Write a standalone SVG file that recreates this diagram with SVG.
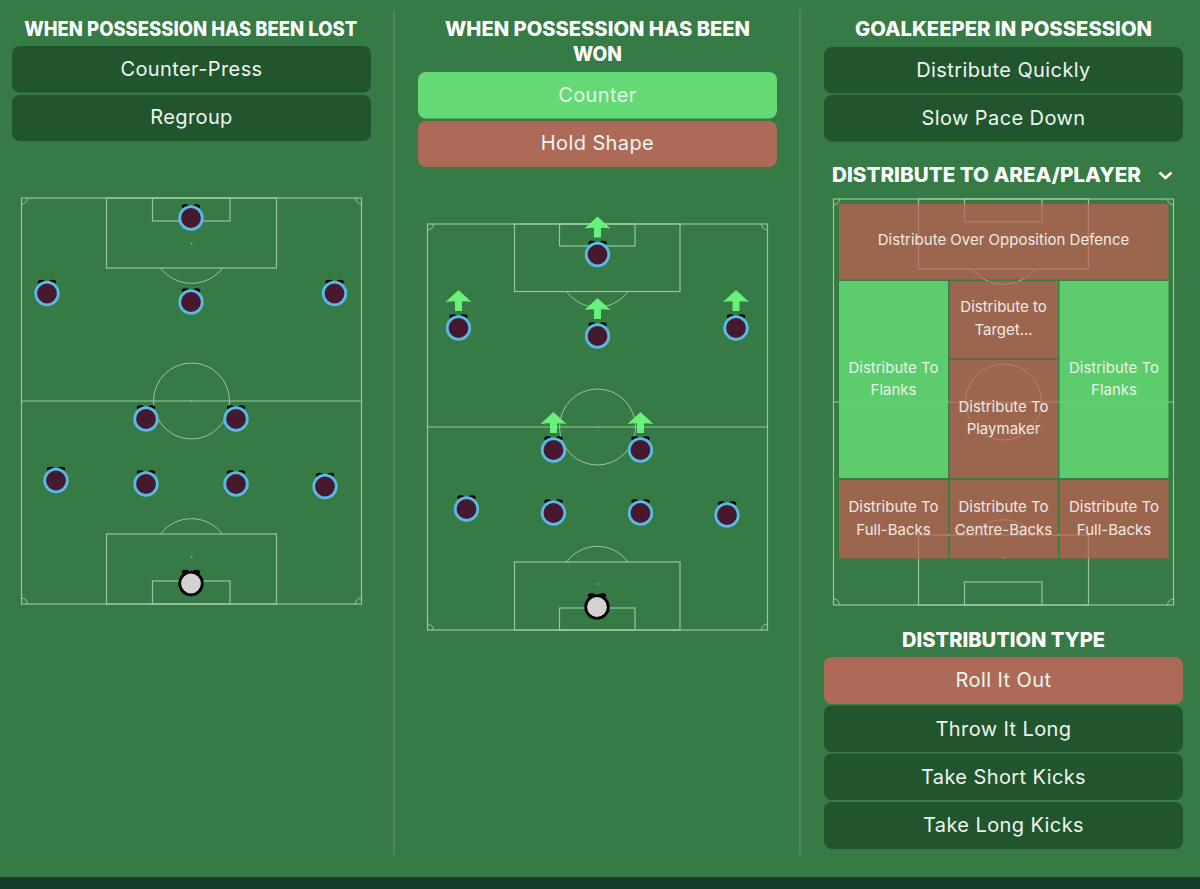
<svg xmlns="http://www.w3.org/2000/svg" width="1200" height="889" viewBox="0 0 1200 889">
<style>
.h{font-family:"Inter","Liberation Sans",sans-serif;font-weight:800;font-size:19.500px;fill:#fff;text-anchor:middle}
.b{font-family:"Inter","Liberation Sans",sans-serif;font-size:20px;letter-spacing:.4px;fill:#eef5ee;text-anchor:middle}
.t{font-family:"Inter","Liberation Sans",sans-serif;font-size:15px;fill:#f1e9e3;text-anchor:middle}
.tg{fill:#e6f5e6}
.dark{fill:#20552e}
.l{fill:none;stroke:#9ac5a2;stroke-width:1.200}
.l2{fill:none;stroke:#9ac5a2;stroke-width:1}
.tb{fill:#c85c53;opacity:.7}
.tn{fill:#62d571;opacity:.9}
</style>
<defs>
<g id="marks">
<rect class="l" x="0" y="0" width="340" height="406"/>
<line class="l" x1="0" y1="203" x2="340" y2="203"/>
<circle class="l2" cx="170" cy="203" r="38"/>
<circle cx="170" cy="203" r=".8" fill="#9ac5a2"/>
<path class="l2" d="M0 6A6 6 0 0 0 6 0M334 0A6 6 0 0 0 340 6M0 400A6 6 0 0 1 6 406M334 406A6 6 0 0 1 340 400"/>
</g>
<g id="pitch">
<use href="#marks"/>
<rect class="l" x="85" y="0" width="170" height="70"/>
<rect class="l" x="131" y="0" width="77.500" height="23"/>
<circle cx="170" cy="45.500" r=".8" fill="#9ac5a2"/>
<path class="l2" d="M139 70A39 39 0 0 0 201 70"/>
<rect class="l" x="85" y="336" width="170" height="70"/>
<rect class="l" x="131" y="383" width="77.500" height="23"/>
<circle cx="170" cy="359" r=".8" fill="#9ac5a2"/>
<path class="l2" d="M139 336A39 39 0 0 1 201 336"/>
</g>
<g id="pitch2">
<use href="#marks"/>
<rect class="l" x="87" y="0" width="165.500" height="67.500"/>
<rect class="l" x="132" y="0" width="75.500" height="22"/>
<path class="l2" d="M139 67.500A38 38 0 0 0 200.500 67.500"/>
<rect class="l" x="87" y="338" width="165.500" height="68"/>
<rect class="l" x="132" y="384" width="75.500" height="22"/>
<circle cx="170" cy="360" r=".8" fill="#9ac5a2"/>
<path class="l2" d="M139 338A38 38 0 0 1 200.500 338"/>
</g>
<g id="bumps"><ellipse cx="-5.500" cy="-11.500" rx="3.700" ry="2.300" fill="#000"/><ellipse cx="5.500" cy="-11.500" rx="3.700" ry="2.300" fill="#000"/></g>
<g id="pl">
<use href="#bumps"/>
<circle r="11.300" fill="#46192f" stroke="#5ab9e6" stroke-width="2.800"/>
</g>
<g id="gk">
<use href="#bumps"/>
<circle r="11.300" fill="#d2d2d2" stroke="#000" stroke-width="2.800"/>
</g>
<path id="ar" d="M0 -38L13 -26Q6 -27 3.500 -26.500V-17H-3.500V-26.500Q-6 -27 -13 -26Z" fill="#69f27a"/>
</defs>
<rect width="1200" height="889" fill="#367a45"/>
<rect y="877" width="1200" height="12" fill="#153f2d"/>
<g id="dividers" stroke="#5c9469" stroke-width="1.200">
<line x1="394" y1="10" x2="394" y2="855"/>
<line x1="800" y1="10" x2="800" y2="855"/>
</g>

<g id="col-lost">
<text class="h" x="190.700" y="36" textLength="333" lengthAdjust="spacingAndGlyphs">WHEN POSSESSION HAS BEEN LOST</text>
<g id="btn-counter-press"><rect class="dark" x="12" y="46" width="359" height="46.500" rx="8"/><text class="b" x="191.500" y="76">Counter-Press</text></g>
<g id="btn-regroup"><rect class="dark" x="12" y="95" width="359" height="46" rx="8"/><text class="b" x="191.500" y="124">Regroup</text></g>
<use href="#pitch" x="21.500" y="198"/>
<g id="lost-players">
<use href="#pl" x="191" y="218"/><use href="#pl" x="47" y="293.500"/><use href="#pl" x="191" y="302"/><use href="#pl" x="334.500" y="293.500"/>
<use href="#pl" x="146" y="419"/><use href="#pl" x="236" y="419"/>
<use href="#pl" x="56" y="480.500"/><use href="#pl" x="146" y="484"/><use href="#pl" x="236" y="484"/><use href="#pl" x="325" y="486.500"/>
<use href="#gk" x="191" y="583.500"/>
</g>
</g>

<g id="col-won">
<text class="h" x="597.500" y="36" textLength="305" lengthAdjust="spacingAndGlyphs">WHEN POSSESSION HAS BEEN</text>
<text class="h" x="597.500" y="61" textLength="49" lengthAdjust="spacingAndGlyphs">WON</text>
<g id="btn-counter"><rect fill="#66d977" x="418" y="72" width="359" height="46.500" rx="8"/><text class="b tg" x="597.500" y="102">Counter</text></g>
<g id="btn-hold"><rect fill="#ad6a58" x="418" y="121" width="359" height="46" rx="8"/><text class="b" x="597.500" y="150">Hold Shape</text></g>
<use href="#pitch2" x="427.500" y="224"/>
<g id="won-players">
<use href="#pl" x="597.500" y="254.500"/><use href="#pl" x="458.500" y="328"/><use href="#pl" x="597.500" y="336"/><use href="#pl" x="736" y="328"/>
<use href="#pl" x="553.500" y="450"/><use href="#pl" x="640.500" y="450"/>
<use href="#pl" x="466.500" y="509"/><use href="#pl" x="553.500" y="513"/><use href="#pl" x="640.500" y="513"/><use href="#pl" x="727" y="515"/>
<use href="#gk" x="597" y="607"/>
<use href="#ar" x="597.500" y="254.500"/><use href="#ar" x="458.500" y="328"/><use href="#ar" x="597.500" y="336"/><use href="#ar" x="736" y="328"/>
<use href="#ar" x="553.500" y="450"/><use href="#ar" x="640.500" y="450"/>
</g>
</g>

<g id="col-gk">
<text class="h" x="1003.500" y="36" textLength="297" lengthAdjust="spacingAndGlyphs">GOALKEEPER IN POSSESSION</text>
<g id="btn-quick"><rect class="dark" x="824" y="47" width="359" height="46.500" rx="8"/><text class="b" x="1003.500" y="77">Distribute Quickly</text></g>
<g id="btn-slow"><rect class="dark" x="824" y="95" width="359" height="46.500" rx="8"/><text class="b" x="1003.500" y="125">Slow Pace Down</text></g>
<text class="h" x="986.500" y="182" textLength="309" lengthAdjust="spacingAndGlyphs">DISTRIBUTE TO AREA/PLAYER</text>
<path id="chevron" d="M1159.500 172.500L1165.500 178L1171.500 172.500" fill="none" stroke="#fff" stroke-width="2.400"/>
<use href="#pitch" x="833.500" y="199"/>
<g id="tile-over"><rect class="tb" x="839" y="204" width="329.500" height="75.500"/><text class="t" x="1003.500" y="245">Distribute Over Opposition Defence</text></g>
<g id="tile-flank-l"><rect class="tn" x="839" y="281" width="109" height="197"/><text class="t tg" x="893.500" y="372.500">Distribute To</text><text class="t tg" x="893.500" y="395">Flanks</text></g>
<g id="tile-target"><rect class="tb" x="949.500" y="281" width="108.500" height="77.500"/><text class="t" x="1003.500" y="312">Distribute to</text><text class="t" x="1003.500" y="335">Target...</text></g>
<g id="tile-flank-r"><rect class="tn" x="1059.500" y="281" width="109" height="197"/><text class="t tg" x="1114" y="372.500">Distribute To</text><text class="t tg" x="1114" y="395">Flanks</text></g>
<g id="tile-playmaker"><rect class="tb" x="949.500" y="360" width="108.500" height="118"/><text class="t" x="1003.500" y="411.500">Distribute To</text><text class="t" x="1003.500" y="434">Playmaker</text></g>
<g id="tile-fb-l"><rect class="tb" x="839" y="480" width="109" height="78.500"/><text class="t" x="893.500" y="511.500">Distribute To</text><text class="t" x="893.500" y="534.500">Full-Backs</text></g>
<g id="tile-cb"><rect class="tb" x="949.500" y="480" width="108.500" height="78.500"/><text class="t" x="1003.500" y="511.500">Distribute To</text><text class="t" x="1003.500" y="534.500">Centre-Backs</text></g>
<g id="tile-fb-r"><rect class="tb" x="1059.500" y="480" width="109" height="78.500"/><text class="t" x="1114" y="511.500">Distribute To</text><text class="t" x="1114" y="534.500">Full-Backs</text></g>
<text class="h" x="1003.500" y="647" textLength="203" lengthAdjust="spacingAndGlyphs">DISTRIBUTION TYPE</text>
<g id="btn-roll"><rect fill="#ad6a58" x="824" y="657" width="359" height="47" rx="8"/><text class="b" x="1003.500" y="687">Roll It Out</text></g>
<g id="btn-throw"><rect class="dark" x="824" y="705.500" width="359" height="46.500" rx="8"/><text class="b" x="1003.500" y="736">Throw It Long</text></g>
<g id="btn-short"><rect class="dark" x="824" y="753.500" width="359" height="46.500" rx="8"/><text class="b" x="1003.500" y="784">Take Short Kicks</text></g>
<g id="btn-long"><rect class="dark" x="824" y="802" width="359" height="47" rx="8"/><text class="b" x="1003.500" y="832">Take Long Kicks</text></g>
</g>
</svg>
